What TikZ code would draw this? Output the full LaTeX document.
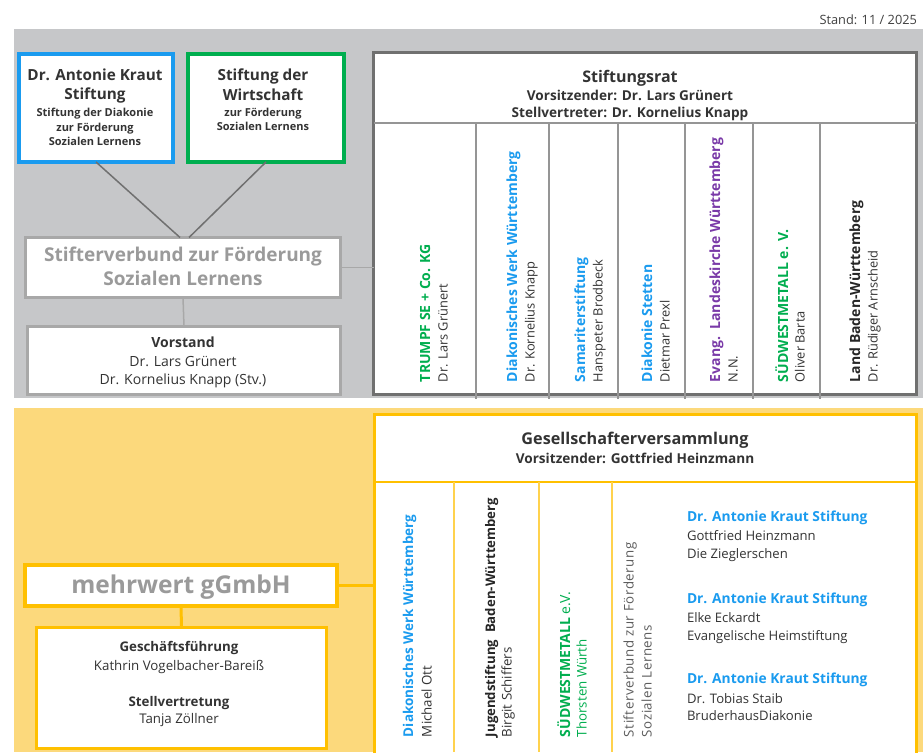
\documentclass[tikz,border=0pt]{standalone}
\usepackage{fontspec}
\setmainfont{Open Sans}
\usetikzlibrary{calc}
\definecolor{graybg}{HTML}{C6C7C9}
\definecolor{yelbg}{HTML}{FCD97C}
\definecolor{gold}{HTML}{FFC000}
\definecolor{goldlight}{HTML}{FFD24D}
\definecolor{akblue}{HTML}{1A9BEF}
\definecolor{swgreen}{HTML}{00AE4F}
\definecolor{evpurple}{HTML}{7A3AA8}
\definecolor{txt}{HTML}{333333}
\definecolor{srborder}{HTML}{707070}
\definecolor{colline}{HTML}{959595}
\definecolor{svborder}{HTML}{A8A8A8}
\definecolor{svtext}{HTML}{9A9A9A}
\definecolor{sttext}{HTML}{404040}
\newcommand{\setfs}[1]{\fontsize{#1}{1.2\dimexpr#1pt\relax}\selectfont}
\begin{document}
\begin{tikzpicture}[x=1pt,y=-1pt,
  every node/.style={inner sep=0pt,outer sep=0pt,text=txt},
  box/.style={draw,fill=white,rectangle,inner sep=0pt},
  bluebox/.style={box,draw=akblue,line width=4pt},
  greenbox/.style={box,draw=swgreen,line width=4pt},
  svbox/.style={box,draw=svborder,line width=3pt},
  srbox/.style={box,draw=srborder,line width=3pt},
  goldbox/.style={box,draw=gold,line width=3pt},
  mwbox/.style={box,draw=gold,line width=4pt},
  conn/.style={draw=srborder,line width=1.5pt},
  lightconn/.style={draw=svborder,line width=1.5pt},
  goldconn/.style={draw=gold,line width=3pt},
  colsep/.style={draw=colline,line width=1.2pt},
  goldsep/.style={draw=goldlight,line width=1.3pt},
  lbl/.style={anchor=base},
  rbold/.style={rotate=90,anchor=base west,font=\setfs{14}\bfseries},
  rboldb/.style={rotate=90,anchor=base west,font=\setfs{13.5}\bfseries},
  rname/.style={rotate=90,anchor=base west,font=\setfs{12.8}},
  rnameb/.style={rotate=90,anchor=base west,font=\setfs{13.3}},
  lst/.style={anchor=base west,font=\setfs{13.1}},
  lsthead/.style={anchor=base west,font=\setfs{13.8}\bfseries,text=akblue}
]
\useasboundingbox (0,0) rectangle (923,752);
% backgrounds
\fill[graybg] (14,29) rectangle (923,398);
\fill[yelbg] (14,408) rectangle (923,752);
\node[lbl,anchor=base east,font=\setfs{12.8},text=sttext] (stand) at (917,24.5) {Stand: 11 / 2025};

% ---------- top section ----------
\node[bluebox,minimum width=154pt,minimum height=108pt] (akb) at (96,108) {};
\node[greenbox,minimum width=156pt,minimum height=108pt] (sdw) at (266,108) {};
\node[svbox,minimum width=315pt,minimum height=60pt] (sv) at (183,267.5) {};
\node[svbox,minimum width=313pt,minimum height=68pt] (vs) at (184,360.5) {};
\node[srbox,minimum width=543pt,minimum height=342pt] (sr) at (645,223.5) {};

\draw[conn] (akb.south) -- ($(sv.north)+(-3,0)$);
\draw[conn] (sdw.south) -- ($(sv.north)+(6,0)$);
\draw[lightconn] (sv.south) -- (vs.north);
\draw[lightconn] (sv.east) -- (sv.east -| sr.west);

% texts in boxes
\node[lbl,font=\setfs{15.3}\bfseries] (akb1) at (95,80.5) {Dr. Antonie Kraut};
\node[lbl,font=\setfs{15.3}\bfseries] (akb2) at (95,99.5) {Stiftung};
\node[lbl,font=\setfs{11}\bfseries] (akb3) at (95,116) {Stiftung der Diakonie};
\node[lbl,font=\setfs{11}\bfseries] (akb4) at (95,131) {zur Förderung};
\node[lbl,font=\setfs{11}\bfseries] (akb5) at (95,145) {Sozialen Lernens};

\node[lbl,font=\setfs{15.3}\bfseries] (sdw1) at (263,80.5) {Stiftung der};
\node[lbl,font=\setfs{15.3}\bfseries] (sdw2) at (263,100) {Wirtschaft};
\node[lbl,font=\setfs{11}\bfseries] (sdw3) at (263,116) {zur Förderung};
\node[lbl,font=\setfs{11}\bfseries] (sdw4) at (263,130.5) {Sozialen Lernens};

\node[lbl,font=\setfs{19}\bfseries,text=svtext] (sv1) at (183,261.8) {Stifterverbund zur Förderung};
\node[lbl,font=\setfs{19}\bfseries,text=svtext] (sv2) at (183,285.8) {Sozialen Lernens};

\node[lbl,font=\setfs{14}\bfseries] (vs1) at (183,347) {Vorstand};
\node[lbl,font=\setfs{14}] (vs2) at (183,366) {Dr. Lars Grünert};
\node[lbl,font=\setfs{14}] (vs3) at (183,384) {Dr. Kornelius Knapp (Stv.)};

% Stiftungsrat
\node[lbl,font=\setfs{16}\bfseries] (sr1) at (630,82.8) {Stiftungsrat};
\node[lbl,font=\setfs{13.6}\bfseries] (sr2) at (630,100.8) {Vorsitzender: Dr. Lars Grünert};
\node[lbl,font=\setfs{13.6}\bfseries] (sr3) at (630,117.8) {Stellvertreter: Dr. Kornelius Knapp};
\draw[colsep] (373.5,123) -- (916.5,123);
\foreach \xx in {476,549,618,685,753,820}
  \draw[colsep] (\xx,123) -- (\xx,399);

\node[rbold,text=swgreen] (c1a) at (430,382) {TRUMPF SE + Co. KG};
\node[rname] (c1b) at (447.6,382) {Dr. Lars Grünert};
\node[rbold,text=akblue] (c2a) at (517,382) {Diakonisches Werk Württemberg};
\node[rname] (c2b) at (534.6,382) {Dr. Kornelius Knapp};
\node[rbold,text=akblue] (c3a) at (585,382) {Samariterstiftung};
\node[rname] (c3b) at (602.6,382) {Hanspeter Brodbeck};
\node[rbold,text=akblue] (c4a) at (652,382) {Diakonie Stetten};
\node[rname] (c4b) at (669.6,382) {Dietmar Prexl};
\node[rbold,text=evpurple] (c5a) at (720,382) {Evang.\ \ Landeskirche Württemberg};
\node[rname] (c5b) at (737.6,382) {N.N.};
\node[rbold,text=swgreen] (c6a) at (788,382) {SÜDWESTMETALL e. V.};
\node[rname] (c6b) at (804.6,382) {Oliver Barta};
\node[rbold,text=black!85] (c7a) at (860,382) {Land Baden-Württemberg};
\node[rname] (c7b) at (877.6,382) {Dr. Rüdiger Arnscheid};

% ---------- bottom section ----------
\node[goldbox,minimum width=542pt,minimum height=355.5pt] (gv) at (645.5,592.25) {};
\node[mwbox,minimum width=312pt,minimum height=41pt] (mw) at (181,585.5) {};
\node[goldbox,minimum width=290pt,minimum height=121pt] (gf) at (181.5,688) {};
\draw[goldconn] (mw.east) -- (mw.east -| gv.west);
\draw[goldconn] (mw.south) -- (gf.north);

\node[lbl,font=\setfs{16.2}\bfseries] (gv1) at (635,444.8) {Gesellschafterversammlung};
\node[lbl,font=\setfs{13.6}\bfseries] (gv2) at (635,463.8) {Vorsitzender: Gottfried Heinzmann};
\draw[goldsep,line width=1.8pt,draw=gold] (374.5,482) -- (916.5,482);
\foreach \xx in {454,539,612}
  \draw[goldsep] (\xx,482) -- (\xx,752);

\node[lbl,font=\setfs{24.5}\bfseries,text=svtext] (mw1) at (181,593.8) {mehrwert gGmbH};
\node[lbl,font=\setfs{13.3}\bfseries] (gf1) at (179,651.8) {Geschäftsführung};
\node[lbl,font=\setfs{13.3}] (gf2) at (179,670.8) {Kathrin Vogelbacher-Bareiß};
\node[lbl,font=\setfs{13.3}\bfseries] (gf3) at (179,706.8) {Stellvertretung};
\node[lbl,font=\setfs{13.3}] (gf4) at (179,723.8) {Tanja Zöllner};

\node[rboldb,text=akblue] (d1a) at (413,737) {Diakonisches Werk Württemberg};
\node[rnameb] (d1b) at (431.7,737) {Michael Ott};
\node[rboldb,text=black!85,font=\setfs{13.2}\bfseries] (d2a) at (495,737) {Jugendstiftung\ \ Baden-Württemberg};
\node[rnameb] (d2b) at (511.7,737) {Birgit Schiffers};
\node[rbold,text=swgreen] (d3a) at (570,737) {SÜDWESTMETALL \mdseries e.V.};
\node[rnameb,text=swgreen] (d3b) at (586.7,737) {Thorsten Würth};
\node[rnameb,text=txt!80,font=\setfs{13.3}\addfontfeature{LetterSpace=4}] (d4a) at (633.7,737) {Stifterverbund zur Förderung};
\node[rnameb,text=txt!80,font=\setfs{13.3}\addfontfeature{LetterSpace=4}] (d4b) at (651.7,737) {Sozialen Lernens};

\node[lsthead] (l1) at (687,521.8) {Dr. Antonie Kraut Stiftung};
\node[lst] (l2) at (687,540.7) {Gottfried Heinzmann};
\node[lst] (l3) at (687,558.7) {Die Zieglerschen};
\node[lsthead] (l4) at (687,603.8) {Dr. Antonie Kraut Stiftung};
\node[lst] (l5) at (687,622.7) {Elke Eckardt};
\node[lst] (l6) at (687,640.7) {Evangelische Heimstiftung};
\node[lsthead] (l7) at (687,683.8) {Dr. Antonie Kraut Stiftung};
\node[lst] (l8) at (687,703.7) {Dr. Tobias Staib};
\node[lst] (l9) at (687,720.7) {BruderhausDiakonie};
\end{tikzpicture}
\end{document}
